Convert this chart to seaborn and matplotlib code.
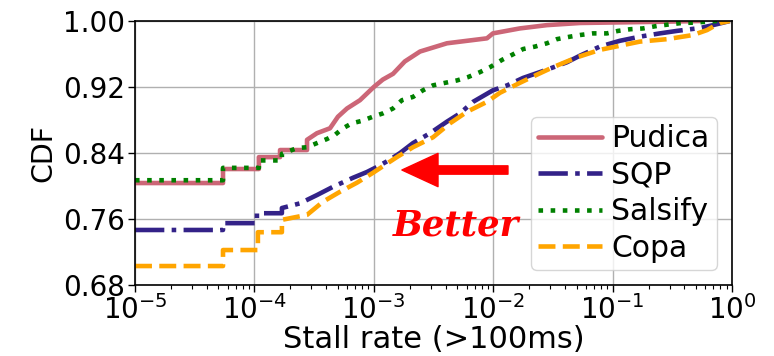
import matplotlib
matplotlib.use("Agg")
import matplotlib.pyplot as plt
import numpy as np
import pandas as pd
import seaborn as sns

# Stall-rate CDF per congestion controller (stall rate, cumulative fraction)
pudica_x = [1e-5, 5.46e-5, 5.46e-5, 1.09e-4, 1.09e-4, 1.64e-4, 1.64e-4, 2.76e-4, 2.76e-4,
            3.34e-4, 4.30e-4, 5.01e-4, 5.97e-4, 7.66e-4, 1.00e-3, 1.19e-3, 1.45e-3,
            1.82e-3, 2.44e-3, 4.10e-3, 8.87e-3, 9.95e-3, 1.67e-2, 2.82e-2, 5.33e-2,
            0.235, 0.540]
pudica_y = [0.8036, 0.8036, 0.8206, 0.8206, 0.835, 0.835, 0.8436, 0.8436, 0.856,
            0.864, 0.870, 0.884, 0.894, 0.904, 0.920, 0.929, 0.936,
            0.951, 0.963, 0.973, 0.979, 0.985, 0.991, 0.995, 0.9976,
            0.999, 1.0]

sqp_x = [1e-5, 5.46e-5, 5.46e-5, 1.05e-4, 1.05e-4, 1.70e-4, 1.70e-4, 2.41e-4, 3.34e-4,
         4.55e-4, 6.70e-4, 8.77e-4, 1.06e-3, 1.37e-3, 1.66e-3, 2.13e-3, 2.96e-3,
         4.10e-3, 5.27e-3, 6.78e-3, 9.95e-3, 1.31e-2, 1.78e-2, 2.82e-2, 4.15e-2,
         5.33e-2, 7.83e-2, 0.115, 0.169, 0.249, 0.346, 0.540, 0.694, 0.96]
sqp_y = [0.7467, 0.7467, 0.755, 0.755, 0.767, 0.767, 0.7733, 0.779, 0.789,
         0.799, 0.810, 0.817, 0.823, 0.832, 0.840, 0.852, 0.864,
         0.878, 0.888, 0.902, 0.916, 0.922, 0.931, 0.941, 0.950,
         0.958, 0.969, 0.976, 0.981, 0.985, 0.988, 0.9915, 0.995, 1.0]

salsify_x = [1e-5, 5.46e-5, 5.46e-5, 1.09e-4, 1.09e-4, 1.70e-4, 1.70e-4, 2.28e-4, 2.76e-4,
             3.34e-4, 4.06e-4, 4.73e-4, 5.52e-4, 6.56e-4, 7.96e-4, 9.84e-4, 1.19e-3,
             1.45e-3, 1.72e-3, 2.13e-3, 2.58e-3, 3.13e-3, 3.94e-3, 4.98e-3, 6.15e-3,
             7.74e-3, 9.40e-3, 1.19e-2, 1.44e-2, 1.78e-2, 2.24e-2, 2.82e-2, 3.42e-2,
             4.40e-2, 5.33e-2, 6.85e-2, 8.97e-2, 0.111, 0.140, 0.180, 0.235, 0.303,
             0.381, 0.471, 0.75]
salsify_y = [0.807, 0.807, 0.822, 0.822, 0.831, 0.831, 0.839, 0.846, 0.847,
             0.852, 0.857, 0.862, 0.870, 0.876, 0.879, 0.884, 0.888,
             0.894, 0.904, 0.908, 0.916, 0.922, 0.925, 0.928, 0.932,
             0.938, 0.944, 0.953, 0.959, 0.966, 0.969, 0.973, 0.978,
             0.981, 0.983, 0.985, 0.985, 0.988, 0.990, 0.991, 0.994, 0.996,
             0.9976, 0.998, 1.0]

copa_x = [1e-5, 5.46e-5, 5.46e-5, 1.07e-4, 1.07e-4, 1.70e-4, 1.70e-4, 2.76e-4, 3.76e-4,
          5.21e-4, 7.23e-4, 9.84e-4, 1.45e-3, 1.56e-3, 2.13e-3, 3.13e-3, 4.35e-3,
          6.04e-3, 8.87e-3, 1.14e-2, 1.67e-2, 2.33e-2, 3.17e-2, 5.03e-2, 7.83e-2,
          0.115, 0.169, 0.286, 0.471, 0.618, 0.79, 0.96]
copa_y = [0.703, 0.703, 0.7224, 0.7224, 0.744, 0.744, 0.759, 0.765, 0.781,
          0.793, 0.804, 0.816, 0.832, 0.835, 0.847, 0.859, 0.876,
          0.890, 0.902, 0.913, 0.925, 0.935, 0.944, 0.956, 0.965,
          0.970, 0.975, 0.978, 0.983, 0.989, 0.9976, 1.0]

y_ticks = [0.68, 0.76, 0.84, 0.92, 1.00]

series = [
    ("Pudica", pudica_x, pudica_y, "#CC6677", "-"),
    ("SQP", sqp_x, sqp_y, "#332288", "-."),
    ("Salsify", salsify_x, salsify_y, "green", ":"),
    ("Copa", copa_x, copa_y, "orange", "--"),
]

sns.set_theme(style="ticks", rc={"text.color": "black", "axes.labelcolor": "black",
                                 "xtick.color": "black", "ytick.color": "black"})
plt.rcParams["font.family"] = ["DejaVu Sans"]

fig = plt.figure(figsize=(7.74, 3.56), dpi=100)
ax = fig.add_axes([0.1744, 0.1994, 0.7713, 0.7416])

for name, xs, ys, color, ls in series:
    df = pd.DataFrame({"rate": xs, "cdf": ys})
    sns.lineplot(data=df, x="rate", y="cdf", ax=ax, estimator=None, sort=False,
                 color=color, linestyle=ls, linewidth=3.3, label=name)

ax.set_xscale("log")
ax.set_xlim(1e-5, 1)
ax.set_ylim(0.68, 1.0)
ax.set_yticks(y_ticks)
ax.set_yticklabels([f"{t:.2f}" for t in y_ticks])
ax.grid(True, which="major", color="#b0b0b0", linewidth=1.0)
for s in ax.spines.values():
    s.set_color("black")
    s.set_linewidth(1.2)
ax.tick_params(axis="both", which="major", labelsize=20, length=5, width=1.0,
               color="black", labelcolor="black", pad=2)
ax.tick_params(axis="x", which="minor", length=3, width=0.8, color="black")
ax.set_xlabel("Stall rate (>100ms)", fontsize=22, labelpad=0, color="black")
ax.set_ylabel("CDF", fontsize=20.5, color="black")

ax.annotate("", xy=(1.72e-3, 0.8194), xytext=(1.33e-2, 0.8194),
            arrowprops=dict(facecolor="red", edgecolor="red", width=6,
                            headwidth=24, headlength=26))
ax.text(4.9e-3, 0.7406, "Better", color="red", fontsize=25.5, ha="center",
        va="baseline", family="DejaVu Serif", fontweight="bold", style="italic")

leg = ax.legend(loc="lower right", fontsize=21.5, handlelength=2.15,
                borderaxespad=0.5, labelspacing=0.25, handletextpad=0.3,
                borderpad=0.25)
leg.get_frame().set_edgecolor("#cccccc")
for t in leg.get_texts():
    t.set_color("black")

fig.savefig("out.png", dpi=100)
